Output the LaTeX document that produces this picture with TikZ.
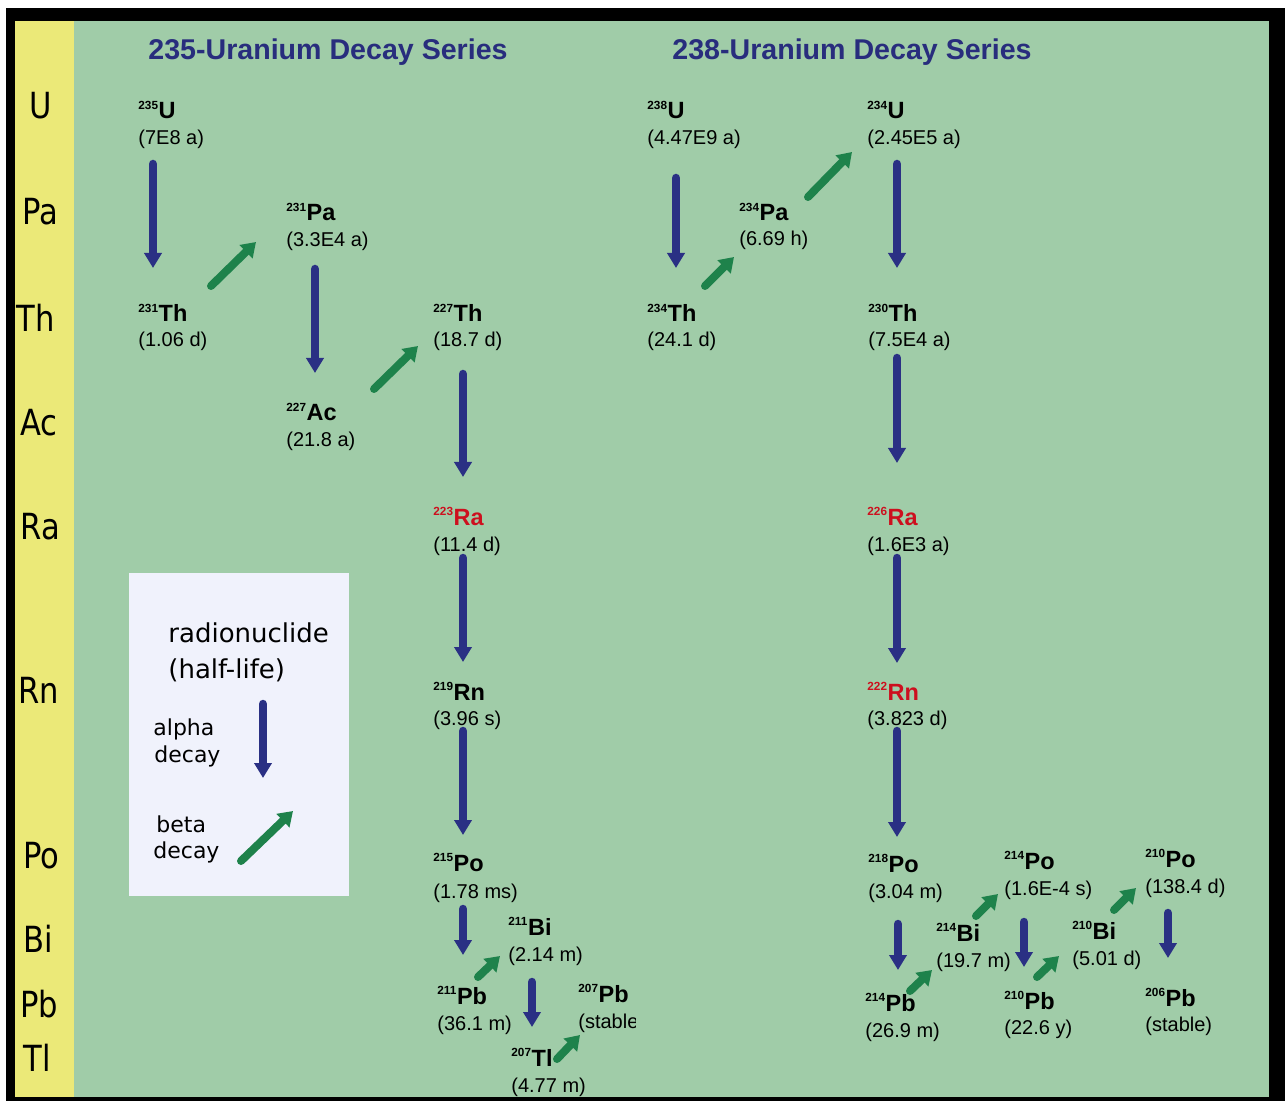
\documentclass[tikz,border=0pt]{standalone}
\usepackage{fontspec}
\setmainfont{Liberation Sans}
\newfontfamily\axisfont[FakeStretch=0.85]{DejaVu Sans}
\newfontfamily\legfont{DejaVu Sans}
\usetikzlibrary{arrows.meta}
\definecolor{bgreen}{RGB}{160,204,168}
\definecolor{byellow}{RGB}{235,233,120}
\definecolor{alphablue}{RGB}{42,48,132}
\definecolor{betagreen}{RGB}{30,130,75}
\definecolor{titleblue}{RGB}{40,45,125}
\definecolor{nucred}{RGB}{205,15,30}
\definecolor{legbg}{RGB}{240,242,252}
\newcommand{\iso}[2]{{\fontsize{5.9}{6}\selectfont\bfseries\raisebox{4.8pt}{#1}}\kern0.3pt{\fontsize{11.75}{13}\selectfont\bfseries #2}}
\tikzset{
  sym/.style={anchor=base west, inner sep=0pt},
  hl/.style={anchor=base west, inner sep=0pt, font=\fontsize{10}{12}\selectfont},
  ax/.style={anchor=base west, inner sep=0pt, font=\axisfont\fontsize{18}{20}\selectfont},
  ttl/.style={anchor=base west, inner sep=0pt, text=titleblue, font=\fontsize{14.3}{16}\selectfont\bfseries},
  red/.style={text=nucred},
  leg/.style={anchor=base west, inner sep=0pt, font=\legfont\fontsize{13}{15}\selectfont},
  legs/.style={anchor=base west, inner sep=0pt, font=\legfont\fontsize{11}{13}\selectfont},
  alphaarr/.style={draw=alphablue, line width=4.25pt, line cap=round, -{Triangle[width=8.5pt,length=7.5pt]}},
  betaarr/.style={draw=betagreen, line width=4pt, line cap=round, -{Triangle[width=9pt,length=7pt]}},
}
\begin{document}
\begin{tikzpicture}[x=0.5pt, y=-0.5pt]
\useasboundingbox (0,0) rectangle (1285,1101);
% background
\fill[white] (0,0) rectangle (1285,1101);
\fill[black] (6,8) rectangle (1285,1101);
\fill[bgreen] (74,21) rectangle (1269,1097);
\fill[byellow] (15,21) rectangle (74,1097);

% axis labels
\node[ax] (lU)  at (29,119)  {U};
\node[ax] (lPa) at (22,225)  {Pa};
\node[ax] (lTh) at (16,332)  {Th};
\node[ax] (lAc) at (20,436)  {Ac};
\node[ax] (lRa) at (20,539)  {Ra};
\node[ax] (lRn) at (18,703)  {Rn};
\node[ax] (lPo) at (23,868)  {Po};
\node[ax] (lBi) at (23,952)  {Bi};
\node[ax] (lPb) at (20,1017) {Pb};
\node[ax] (lTl) at (23,1071) {Tl};

% titles
\node[ttl] (t235) at (148,60) {235-Uranium Decay Series};
\node[ttl] (t238) at (672,60) {238-Uranium Decay Series};

% ---- 235 series ----
\node[sym] (u235)  at (138,119) {\iso{235}{U}};
\node[hl]  (u235h) at (138,145) {(7E8 a)};
\node[sym] (th231)  at (138,322) {\iso{231}{Th}};
\node[hl]  (th231h) at (138,347) {(1.06 d)};
\node[sym] (pa231)  at (286,221) {\iso{231}{Pa}};
\node[hl]  (pa231h) at (286,247) {(3.3E4 a)};
\node[sym] (ac227)  at (286,421) {\iso{227}{Ac}};
\node[hl]  (ac227h) at (286,447) {(21.8 a)};
\node[sym] (th227)  at (433,322) {\iso{227}{Th}};
\node[hl]  (th227h) at (433,347) {(18.7 d)};
\node[sym,red] (ra223)  at (433,525) {\iso{223}{Ra}};
\node[hl]  (ra223h) at (433,552) {(11.4 d)};
\node[sym] (rn219)  at (433,700) {\iso{219}{Rn}};
\node[hl]  (rn219h) at (433,725) {(3.96 s)};
\node[sym] (po215)  at (433,871) {\iso{215}{Po}};
\node[hl]  (po215h) at (433,898) {(1.78 ms)};
\node[sym] (bi211)  at (508,935) {\iso{211}{Bi}};
\node[hl]  (bi211h) at (508,961) {(2.14 m)};
\node[sym] (pb211)  at (437,1004) {\iso{211}{Pb}};
\node[hl]  (pb211h) at (437,1030) {(36.1 m)};
\node[sym] (pb207)  at (578,1002) {\iso{207}{Pb}};
\begin{scope}
\clip (570,1005) rectangle (635,1040);
\node[hl]  (pb207h) at (578,1028) {(stable};
\end{scope}
\node[sym] (tl207)  at (511,1066) {\iso{207}{Tl}};
\node[hl]  (tl207h) at (511,1092) {(4.77 m)};

% ---- 238 series ----
\node[sym] (u238)  at (647,119) {\iso{238}{U}};
\node[hl]  (u238h) at (647,145) {(4.47E9 a)};
\node[sym] (u234)  at (867,119) {\iso{234}{U}};
\node[hl]  (u234h) at (867,145) {(2.45E5 a)};
\node[sym] (pa234)  at (739,221) {\iso{234}{Pa}};
\node[hl]  (pa234h) at (739,246) {(6.69 h)};
\node[sym] (th234)  at (647,322) {\iso{234}{Th}};
\node[hl]  (th234h) at (647,347) {(24.1 d)};
\node[sym] (th230)  at (868,322) {\iso{230}{Th}};
\node[hl]  (th230h) at (868,347) {(7.5E4 a)};
\node[sym,red] (ra226)  at (867,525) {\iso{226}{Ra}};
\node[hl]  (ra226h) at (867,552) {(1.6E3 a)};
\node[sym,red] (rn222)  at (867,700) {\iso{222}{Rn}};
\node[hl]  (rn222h) at (867,725) {(3.823 d)};
\node[sym] (po218)  at (868,872) {\iso{218}{Po}};
\node[hl]  (po218h) at (868,898) {(3.04 m)};
\node[sym] (po214)  at (1004,869) {\iso{214}{Po}};
\node[hl]  (po214h) at (1004,895) {(1.6E-4 s)};
\node[sym] (po210)  at (1145,867) {\iso{210}{Po}};
\node[hl]  (po210h) at (1145,893) {(138.4 d)};
\node[sym] (bi214)  at (936,941) {\iso{214}{Bi}};
\node[hl]  (bi214h) at (936,967) {(19.7 m)};
\node[sym] (bi210)  at (1072,939) {\iso{210}{Bi}};
\node[hl]  (bi210h) at (1072,965) {(5.01 d)};
\node[sym] (pb214)  at (865,1011) {\iso{214}{Pb}};
\node[hl]  (pb214h) at (865,1037) {(26.9 m)};
\node[sym] (pb210)  at (1004,1009) {\iso{210}{Pb}};
\node[hl]  (pb210h) at (1004,1034) {(22.6 y)};
\node[sym] (pb206)  at (1145,1006) {\iso{206}{Pb}};
\node[hl]  (pb206h) at (1145,1031) {(stable)};

% ---- arrow end points ----
% alpha
\coordinate (a1s) at (153,164);  \coordinate (a1e) at (153,268);
\coordinate (a2s) at (315,269);  \coordinate (a2e) at (315,373);
\coordinate (a3s) at (463,374);  \coordinate (a3e) at (463,477);
\coordinate (a4s) at (463,558);  \coordinate (a4e) at (463,662);
\coordinate (a5s) at (463,731);  \coordinate (a5e) at (463,835);
\coordinate (a6s) at (463,909);  \coordinate (a6e) at (463,955);
\coordinate (a7s) at (532,982);  \coordinate (a7e) at (532,1027);
\coordinate (b1s) at (676,178);  \coordinate (b1e) at (676,268);
\coordinate (b2s) at (897,164);  \coordinate (b2e) at (897,268);
\coordinate (b3s) at (897,358);  \coordinate (b3e) at (897,463);
\coordinate (b4s) at (897,558);  \coordinate (b4e) at (897,663);
\coordinate (b5s) at (897,731);  \coordinate (b5e) at (897,837);
\coordinate (b6s) at (898,924);  \coordinate (b6e) at (898,970);
\coordinate (b7s) at (1024,922); \coordinate (b7e) at (1024,967);
\coordinate (b8s) at (1168,913); \coordinate (b8e) at (1168,958);
% beta
\coordinate (c1s) at (211,286);  \coordinate (c1e) at (256,242);
\coordinate (c2s) at (374,389);  \coordinate (c2e) at (418,346);
\coordinate (c3s) at (478,977);  \coordinate (c3e) at (500,956);
\coordinate (c4s) at (557,1059); \coordinate (c4e) at (580,1035);
\coordinate (d1s) at (705,286);  \coordinate (d1e) at (734,257);
\coordinate (d2s) at (808,197);  \coordinate (d2e) at (852,152);
\coordinate (d3s) at (910,991);  \coordinate (d3e) at (932,970);
\coordinate (d4s) at (976,916);  \coordinate (d4e) at (998,894);
\coordinate (d5s) at (1037,977); \coordinate (d5e) at (1059,956);
\coordinate (d6s) at (1114,910); \coordinate (d6e) at (1136,888);

\foreach \n in {a1,a2,a3,a4,a5,a6,a7,b1,b2,b3,b4,b5,b6,b7,b8}
  \draw[alphaarr] (\n s) -- (\n e);
\foreach \n in {c1,c2,c3,c4,d1,d2,d3,d4,d5,d6}
  \draw[betaarr] (\n s) -- (\n e);

% ---- legend ----
\fill[legbg] (129,573) rectangle (349,896);
\node[leg]  (lg1) at (168,642) {radionuclide};
\node[leg]  (lg2) at (168,678) {(half-life)};
\node[legs] (lg3) at (153,735) {alpha};
\node[legs] (lg4) at (154,762) {decay};
\node[legs] (lg5) at (156,832) {beta};
\node[legs] (lg6) at (153,858) {decay};
\coordinate (la1) at (263,704); \coordinate (la2) at (263,778);
\coordinate (lb1) at (241,861); \coordinate (lb2) at (293,811);
\draw[alphaarr] (la1) -- (la2);
\draw[betaarr] (lb1) -- (lb2);
\end{tikzpicture}
\end{document}
